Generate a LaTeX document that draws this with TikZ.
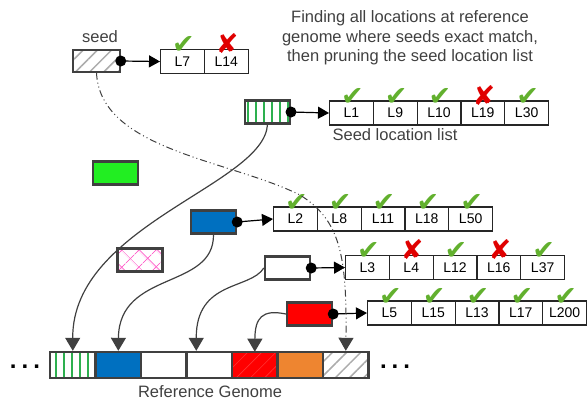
\documentclass[tikz,border=0pt]{standalone}
\usepackage{fontspec}
\setmainfont{Liberation Sans}
\newfontfamily\symfont{DejaVu Sans}
\usetikzlibrary{arrows.meta,patterns.meta,calc,positioning}
\definecolor{DGray}{HTML}{404040}
\definecolor{Tick}{HTML}{62B02E}
\definecolor{Cross}{HTML}{E00000}
\definecolor{SGreen}{HTML}{2DB04F}
\definecolor{BGreen}{HTML}{22EE22}
\definecolor{GBlue}{HTML}{0070C0}
\definecolor{GOrange}{HTML}{EE8530}
\definecolor{Pink}{HTML}{FF66CC}
\newcommand{\okm}{\textcolor{Tick}{✔}}
\newcommand{\badm}{\textcolor{Cross}{✘}}
\tikzset{
    seedbox/.style={draw=DGray, line width=2.4pt, minimum width=45pt, minimum height=23pt, inner sep=0pt},
    loccell/.style={draw=black!85, line width=1.1pt, minimum width=43.8pt, minimum height=24pt, inner sep=0pt, font=\fontsize{14}{16}\selectfont},
    tickmark/.style={inner sep=0pt, font=\symfont\fontsize{27}{27}\selectfont},
    gseg/.style={draw=DGray, line width=2.4pt, minimum width=45.5pt, minimum height=26pt, inner sep=0pt},
    captxt/.style={text=DGray, font=\fontsize{16.5}{19.5}\selectfont, inner sep=0pt},
    stripes/.style={pattern={Lines[angle=90,distance=8pt,line width=2pt]}, pattern color=SGreen},
    greyhatch/.style={pattern={Lines[angle=45,distance=10pt,line width=1.5pt]}, pattern color=gray!65},
    pinkhatch/.style={pattern={Hatch[angle=45,distance=13pt,line width=1pt]}, pattern color=Pink},
    gwhite/.style={fill=white},
    gblue/.style={fill=GBlue},
    gorange/.style={fill=GOrange},
    gred/.style={preaction={fill=red}, pattern={Lines[angle=45,distance=10pt,line width=0.6pt]}, pattern color=red!80!white},
    ptr/.style={draw=black, line width=1.2pt, -{Triangle[length=11pt,width=12pt]}},
    hit/.style={draw=DGray, line width=1.2pt, -{Triangle[length=13pt,width=15pt]}},
    seedpath/.style={draw=DGray, line width=1pt, dash pattern=on 7pt off 3pt on 1pt off 3pt on 1pt off 3pt, -{Triangle[length=13pt,width=15pt]}},
}
\NewDocumentCommand{\DrawLocList}{m m m m}{
    % one seed location list, cells left to right
    \foreach [count=\i] \lab/\mk in {#4} {
        \pgfmathsetmacro\cx{#2+43.8*(\i-1)}
        \node[loccell, anchor=west] (#1-\i) at (\cx,#3) {\lab};
        \node[tickmark, anchor=base] (#1-m\i) at ($(#1-\i.north)+(1,5)$) {\mk};
    }
}

\begin{document}
\begin{tikzpicture}[x=1pt, y=-1pt]

    \useasboundingbox (0,0) rectangle (587,402);

    \node[captxt, align=center] (title) at (410,38) {Finding all locations at reference\\genome where seeds exact match,\\then pruning the seed location list};

    % seeds
    \node[seedbox, greyhatch, minimum width=47pt, minimum height=22pt] (seed) at (96.5,61) {};
    \node[captxt] (seedtxt) at (100,37) {seed};
    \node[seedbox, stripes] (sgreen) at (267.5,112) {};
    \node[seedbox, fill=BGreen] (slime) at (115.5,173) {};
    \node[seedbox, fill=GBlue] (sblue) at (213.5,222) {};
    \node[seedbox, pinkhatch] (spink) at (140,260) {};
    \node[seedbox, fill=white] (swhite) at (287.5,268) {};
    \node[seedbox, fill=red] (sred) at (309.5,314) {};

    % location lists
    \DrawLocList{sl1}{160}{61.5}{L7/\okm, L14/\badm}
    \DrawLocList{sl2}{329}{113}{L1/\okm, L9/\okm, L10/\okm, L19/\badm, L30/\okm}
    \DrawLocList{sl3}{273}{219}{L2/\okm, L8/\okm, L11/\okm, L18/\okm, L50/\okm}
    \DrawLocList{sl4}{345}{267.5}{L3/\okm, L4/\badm, L12/\okm, L16/\badm, L37/\okm}
    \DrawLocList{sl5}{367}{313}{L5/\okm, L15/\okm, L13/\okm, L17/\okm, L200/\okm}
    \node[captxt] (listtxt) at (395,134.5) {Seed location list};

    \foreach \s/\l in {seed/sl1, sgreen/sl2, sblue/sl3, swhite/sl4, sred/sl5} {
        \fill[black] (\s.east) circle (5.5);
        \draw[ptr] (\s.east) -- (\l-1.west);
    }

    % reference genome
    \foreach [count=\i] \st in {stripes,gblue,gwhite,gwhite,gred,gorange,greyhatch}
        \node[gseg, \st] (g\i) at ({27.3+45.5*\i},365) {};
    \node[captxt] (gtxt) at (210,392) {Reference Genome};
    \node[font=\bfseries\fontsize{24}{24}\selectfont, inner sep=0pt] (dl) at (25,367) {.\hspace{5pt}.\hspace{5pt}.};
    \node[font=\bfseries\fontsize{24}{24}\selectfont, inner sep=0pt] (dr) at (395,367) {.\hspace{5pt}.\hspace{5pt}.};

    % exact matches
    \coordinate (g4hit) at ($(g4.north)+(-13,0)$);
    \draw[hit] (sgreen.south) .. controls (264,185) and (72,225) .. (g1.north);
    \draw[hit] (sblue.south) .. controls (214,290) and (119,270) .. (g2.north);
    \draw[hit] (swhite.west) .. controls (250,290) and (196,280) .. (g4hit);
    \draw[hit] (sred.west) .. controls (262,309) and (255,318) .. (g5.north);
    \draw[seedpath] (seed.south) .. controls (100,150) and (230,160) .. (300,195) .. controls (340,220) and (347,255) .. (g7.north);
\end{tikzpicture}
\end{document}
